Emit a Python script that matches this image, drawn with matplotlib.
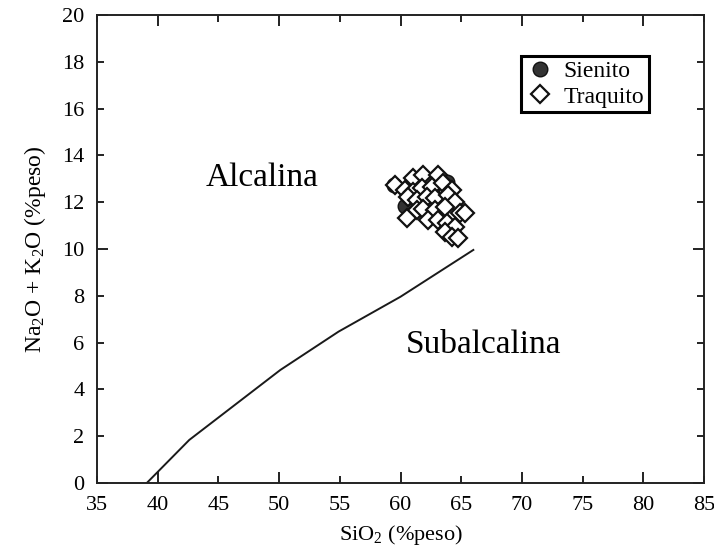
import matplotlib
matplotlib.use("Agg")
import matplotlib.pyplot as plt

plt.rcParams['font.family'] = ['Liberation Serif', 'DejaVu Serif']
plt.rcParams['mathtext.fontset'] = 'custom'
plt.rcParams['mathtext.rm'] = 'Liberation Serif'
plt.rcParams['mathtext.it'] = 'Liberation Serif:italic'

# Boundary line (Irvine & Baragar, alcalina / subalcalina)
line_sio2 = [39.1, 42.6, 50.1, 54.9, 60.0, 66.0]
line_alk = [0.0, 1.84, 4.83, 6.47, 7.96, 9.96]

# Sienito samples
sienito_sio2 = [59.45, 60.4, 62.6, 63.8, 63.5]
sienito_alk = [12.75, 11.83, 12.45, 12.85, 11.15]

# Traquito samples
traquito_sio2 = [59.55, 61.06, 61.88, 63.11, 60.37, 61.06, 61.74, 62.57, 63.53, 64.21,
                 60.64, 61.33, 62.15, 62.84, 63.94, 64.49, 60.51, 61.33, 61.88, 62.84,
                 63.66, 64.90, 62.29, 63.12, 63.80, 64.49, 65.31, 63.66, 64.21, 64.76]
traquito_alk = [12.73, 13.02, 13.16, 13.16, 12.52, 12.45, 12.59, 12.66, 12.80, 12.52,
                12.23, 12.09, 12.23, 12.16, 12.30, 12.02, 11.31, 11.66, 11.73, 11.66,
                11.81, 11.52, 11.24, 11.24, 11.09, 10.95, 11.52, 10.74, 10.52, 10.45]

x_major = [40, 50, 60, 70, 80]
x_minor = [35, 45, 55, 65, 75, 85]
y_major = [0, 10, 20]
y_minor = [2, 4, 6, 8, 12, 14, 16, 18]

fig = plt.figure(figsize=(7.14, 5.5), dpi=100)
ax = fig.add_axes([97/714, 1-483/550, 607/714, 468/550])

ax.plot(line_sio2, line_alk, color='#1a1a1a', lw=1.4)
ax.plot(sienito_sio2, sienito_alk, linestyle='none', marker='o', ms=10.5,
        mfc='#333333', mec='#111111', mew=1.0, label='Sienito', zorder=3)
ax.plot(traquito_sio2, traquito_alk, linestyle='none', marker='D', ms=9,
        mfc='white', mec='#111111', mew=1.6, label='Traquito', zorder=4)

ax.set_xlim(35, 85)
ax.set_ylim(0, 20)
ax.set_xticks(x_major)
ax.set_xticks(x_minor, minor=True)
ax.set_xticklabels([str(v) for v in x_major])
ax.set_xticklabels([str(v) for v in x_minor], minor=True)
ax.set_yticks(y_major)
ax.set_yticks(y_minor, minor=True)
ax.set_yticklabels([str(v) for v in y_major])
ax.set_yticklabels([str(v) for v in y_minor], minor=True)

ax.tick_params(which='both', direction='in', top=True, right=True,
               labelsize=16, color='#222222', width=1.4)
ax.tick_params(which='major', length=8, pad=9)
ax.tick_params(which='minor', length=5, pad=9)
for s in ax.spines.values():
    s.set_linewidth(1.4)
    s.set_color('#222222')

ax.text(48.6, 13.05, 'Alcalina', fontsize=24, ha='center', va='center')
ax.text(66.8, 5.9, 'Subalcalina', fontsize=24, ha='center', va='center')

ax.set_xlabel('SiO$_2$ (%peso)', fontsize=16, labelpad=6)
ax.set_ylabel('Na$_2$O + K$_2$O (%peso)', fontsize=17, labelpad=10)

leg = ax.legend(loc='upper left', bbox_to_anchor=(0.699, 0.912), fontsize=17,
                frameon=True, fancybox=False, framealpha=1, edgecolor='black',
                borderpad=0.2, handletextpad=0.4, labelspacing=0.15,
                handlelength=1.2, borderaxespad=0)
leg.get_frame().set_linewidth(2.2)

fig.savefig('out.png', dpi=100)
